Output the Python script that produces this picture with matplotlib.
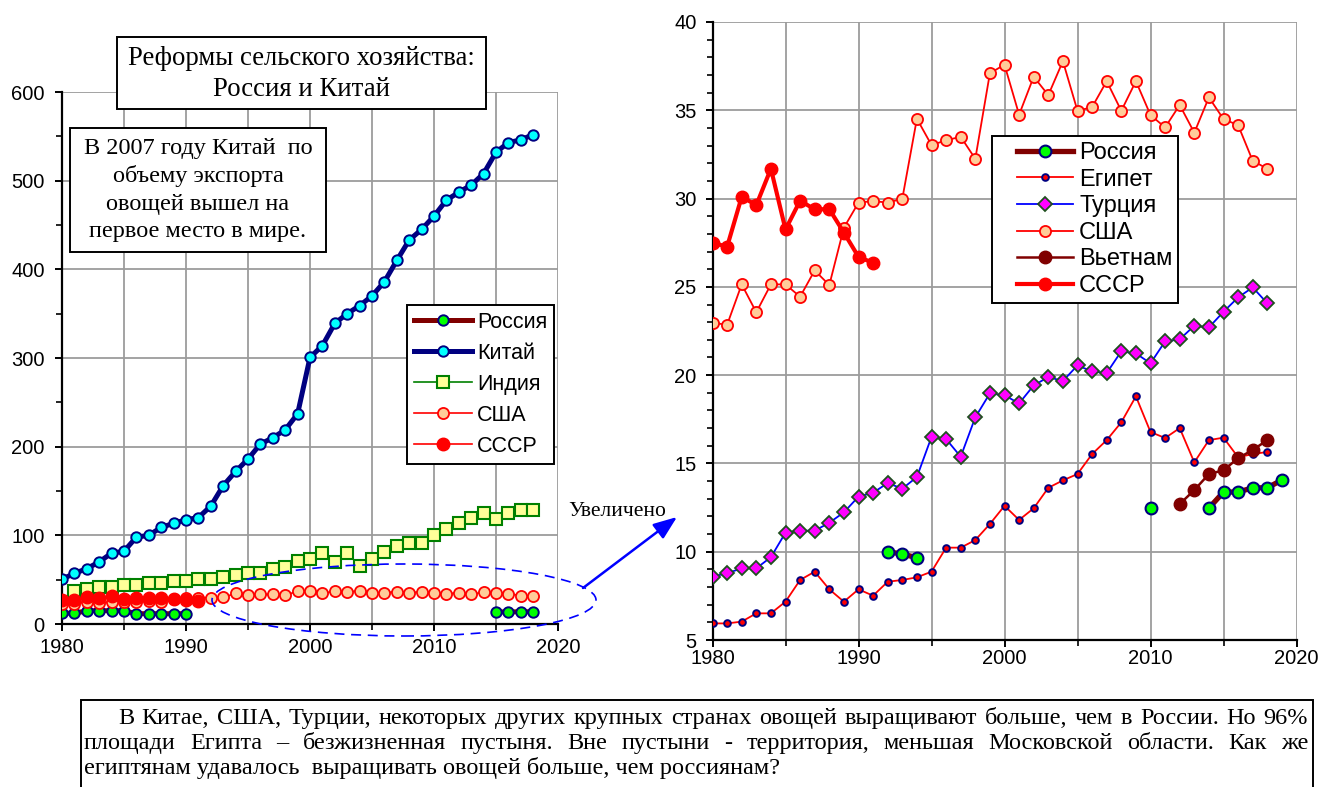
import numpy as np
import matplotlib
matplotlib.use('Agg')
import matplotlib.pyplot as plt
from matplotlib import patches
from matplotlib.ticker import MultipleLocator
from matplotlib.lines import Line2D
from matplotlib.legend_handler import HandlerLine2D

nan = np.nan

# ---------------- data (left chart) ----------------
years_all = list(range(1980, 2019))
china = [50.6, 57, 62.5, 70, 80, 82, 98, 100, 109, 113.5, 117.6, 120, 133, 156, 172, 186, 203,
         210, 219, 237, 300.6, 314, 339, 350, 359, 370, 386, 410, 433, 445, 460, 478, 487, 495,
         508, 532, 543, 546, 552]
years_india = list(range(1981, 2019))
india = [37.5, 40, 42, 42, 44.5, 44.5, 46, 46, 48.7, 48.7, 50.5, 50.5, 53, 55.4, 57.7, 57.7, 62,
         64, 71, 73, 80, 70, 80, 65.4, 73, 81.5, 88, 91, 91, 100, 107, 113.5, 120, 125, 118, 125,
         129, 129]
years_russia_l = [1980, 1981, 1982, 1983, 1984, 1985, 1986, 1987, 1988, 1989, 1990, 2000,
                  2015, 2016, 2017, 2018]
russia_l = [12.4, 12, 15, 15, 15, 15, 11.6, 11.6, 11.6, 11.6, 11.6, nan, 13.6, 13.6, 13.8, 13.8]

# ---------------- data (shared / right chart) ----------------
usa = [22.97, 22.85, 25.14, 23.56, 25.14, 25.14, 24.44, 25.93, 25.1, 28.35,
       29.77, 29.86, 29.77, 29.99, 34.52, 33.03, 33.3, 33.5, 32.25, 37.1,
       37.58, 34.75, 36.9, 35.86, 37.78, 34.97, 35.18, 36.65, 34.97, 36.65,
       34.73, 34.03, 35.3, 33.73, 35.73, 34.5, 34.16, 32.14, 31.69]
years_ussr = list(range(1980, 1992))
ussr = [27.5, 27.27, 30.1, 29.63, 31.69, 28.25, 29.88, 29.39, 29.4, 28.07, 26.7, 26.36]
egypt = [5.94, 5.94, 6.04, 6.51, 6.51, 7.17, 8.4, 8.87, 7.87, 7.17,
         7.87, 7.51, 8.3, 8.4, 8.55, 8.87, 10.23, 10.23, 10.66, 11.57,
         12.6, 11.8, 12.46, 13.62, 14.04, 14.4, 15.53, 16.32, 17.33, 18.8,
         16.78, 16.44, 17.0, 15.06, 16.32, 16.46, 15.35, 15.53, 15.65]
turkey = [8.59, 8.78, 9.06, 9.06, 9.69, 11.08, 11.19, 11.19, 11.64, 12.23,
          13.12, 13.34, 13.89, 13.57, 14.23, 16.5, 16.38, 15.38, 17.61, 18.97,
          18.86, 18.4, 19.42, 19.89, 19.67, 20.55, 20.21, 20.12, 21.35, 21.23,
          20.67, 21.91, 22.03, 22.8, 22.7, 23.59, 24.4, 24.97, 24.07]
years_vietnam = list(range(2012, 2019))
vietnam = [12.7, 13.49, 14.4, 14.61, 15.3, 15.76, 16.32]
years_russia_r = [1992, 1993, 1994, 2000, 2010, 2012, 2014, 2015, 2016, 2017, 2018, 2019]
russia_r = [10.0, 9.87, 9.66, nan, 12.47, nan, 12.47, 13.38, 13.38, 13.62, 13.62, 14.06]

labels_left = ['Россия', 'Китай', 'Индия', 'США', 'СССР']
labels_right = ['Россия', 'Египет', 'Турция', 'США', 'Вьетнам', 'СССР']

title_lines = ['Реформы сельского хозяйства:', 'Россия и Китай']
note_lines = ['В 2007 году Китай  по', 'объему экспорта', 'овощей вышел на', 'первое место в мире.']
zoom_label = 'Увеличено'
bottom_lines = [
    'В Китае, США, Турции, некоторых других крупных странах овощей выращивают больше, чем в России. Но 96%',
    'площади Египта – безжизненная пустыня. Вне пустыни  - территория, меньшая Московской области. Как же',
    'египтянам удавалось  выращивать овощей больше, чем россиянам?',
]

# ---------------- figure ----------------
W, H = 1320, 787
fig = plt.figure(figsize=(W / 100, H / 100), dpi=100)
renderer = fig.canvas.get_renderer()
SANS = 'Liberation Sans'
SERIF = 'Liberation Serif'


def fxy(x, y):
    return (x / W, 1 - y / H)


def frect(x0, y0, x1, y1):
    return [x0 / W, 1 - y1 / H, (x1 - x0) / W, (y1 - y0) / H]


def twidth(s, size, family):
    t = fig.text(0, 0, s, fontsize=size, family=family)
    w = t.get_window_extent(renderer).width
    t.remove()
    return w


def fit(s, family, target):
    return 20 * target / twidth(s, 20, family)


axL = fig.add_axes(frect(62, 92, 558, 624))
axR = fig.add_axes(frect(712.5, 22, 1296.5, 640))

GRID = '#9c9c9c'


def style(ax, ymaj, ymin, xpad, ypad):
    ax.set_axisbelow(True)
    ax.xaxis.set_major_locator(MultipleLocator(10))
    ax.xaxis.set_minor_locator(MultipleLocator(5))
    ax.yaxis.set_major_locator(MultipleLocator(ymaj))
    ax.yaxis.set_minor_locator(MultipleLocator(ymin))
    ax.grid(True, which='major', color=GRID, lw=1.3)
    ax.grid(True, which='minor', axis='x', color=GRID, lw=1.3)
    for s in ('top', 'right'):
        ax.spines[s].set_visible(False)
    for s in ('left', 'bottom'):
        ax.spines[s].set_linewidth(1.6)
        ax.spines[s].set_color('black')
    ax.tick_params(which='major', direction='out', length=5, width=1.4, labelsize=14.5)
    ax.tick_params(which='minor', direction='out', length=4, width=1.2)
    ax.tick_params(axis='x', which='major', pad=xpad)
    ax.tick_params(axis='y', which='major', pad=ypad)
    for lab in ax.get_xticklabels() + ax.get_yticklabels():
        lab.set_family(SANS)


# ---------------- left chart ----------------
lr, = axL.plot(years_russia_l, russia_l, color='#800000', lw=3.6, marker='o', ms=7.5,
               mfc='#00ff00', mec='#000080', mew=1.4, zorder=3)
lc, = axL.plot(years_all, china, color='#000080', lw=3.6, marker='o', ms=7.5,
               mfc='#00ffff', mec='#000080', mew=1.4, zorder=4)
li, = axL.plot(years_india, india, color='#008000', lw=1.2, marker='s', ms=8,
               mfc='#ffff99', mec='#008000', mew=1.5, zorder=3)
lu, = axL.plot(years_all, usa, color='red', lw=1.2, marker='o', ms=8,
               mfc='#ffcc99', mec='red', mew=1.3, zorder=3)
ls_, = axL.plot(years_ussr, ussr, color='red', lw=1.2, marker='o', ms=9,
                mfc='red', mec='red', mew=1.0, zorder=3.5)
axL.set_xlim(1980, 2020)
axL.set_ylim(0, 600)
style(axL, 100, 50, 5, 7.5)

# ---------------- right chart ----------------
rr, = axR.plot(years_russia_r, russia_r, color='#800000', lw=3.8, marker='o', ms=8.5,
               mfc='#00ff00', mec='#000080', mew=1.5, zorder=6)
re, = axR.plot(years_all, egypt, color='red', lw=1.3, marker='o', ms=4.8,
               mfc='red', mec='#000080', mew=1.4, zorder=3)
rt, = axR.plot(years_all, turkey, color='blue', lw=1.3, marker='D', ms=7,
               mfc='#ff00ff', mec='#1f4f1f', mew=1.3, zorder=3)
ru, = axR.plot(years_all, usa, color='red', lw=1.3, marker='o', ms=8,
               mfc='#ffcc99', mec='red', mew=1.3, zorder=3)
rv, = axR.plot(years_vietnam, vietnam, color='#800000', lw=1.8, marker='o', ms=9,
               mfc='#800000', mec='#800000', mew=1.0, zorder=4)
rs, = axR.plot(years_ussr, ussr, color='red', lw=3.0, marker='o', ms=9,
               mfc='red', mec='red', mew=1.0, zorder=5)
axR.set_xlim(1980, 2020)
axR.set_ylim(5, 40)
style(axR, 5, 1, 1.5, 6.5)


# ---------------- legends ----------------
def build_legend(ax, handles, labels, fs, anchor, target_h, hl, htp, bp, xpad):
    ls = 0.3
    fs_px = fs * 100 / 72
    leg = None
    for _ in range(3):
        if leg is not None:
            leg.remove()
        leg = ax.legend(handles, labels, loc='upper left', bbox_to_anchor=fxy(*anchor),
                        bbox_transform=fig.transFigure, borderaxespad=0, fancybox=False,
                        framealpha=1, edgecolor='black', prop={'family': SANS, 'size': fs},
                        handlelength=hl, handletextpad=htp, borderpad=bp, labelspacing=ls,
                        numpoints=1, handler_map={Line2D: HandlerLine2D(xpad=xpad)})
        leg.get_frame().set_linewidth(1.4)
        leg.set_zorder(20)
        fig.canvas.draw()
        h = leg.get_window_extent(renderer).height
        ls = max(0.0, ls + (target_h - h) / (fs_px * (len(labels) - 1)))
    return leg


fsL = 15.5
pxL = fsL * 100 / 72
build_legend(axL, [lr, lc, li, lu, ls_], labels_left, fsL, (407, 305), 159,
             58 / pxL, 5 / pxL, 7 / pxL, 0.0)
fsR = 17
pxR = fsR * 100 / 72
build_legend(axR, [rr, re, rt, ru, rv, rs], labels_right, fsR, (992, 136), 167,
             75 / pxR, 6 / pxR, 6 / pxR, 19 / pxR)

# ---------------- annotations ----------------
fig.add_artist(patches.Rectangle(fxy(117, 109), 369 / W, 72 / H, transform=fig.transFigure,
                                 facecolor='white', edgecolor='black', lw=1.4, zorder=5))
ts = fit(title_lines[0], SERIF, 347)
for line, yb in zip(title_lines, [65, 96]):
    fig.text(*fxy(301.5, yb), line, family=SERIF, fontsize=ts, ha='center', va='baseline', zorder=6)

fig.add_artist(patches.Rectangle(fxy(70, 252), 256 / W, 124 / H, transform=fig.transFigure,
                                 facecolor='white', edgecolor='black', lw=1.4, zorder=5))
ns = fit(note_lines[0], SERIF, 230)
for line, yb in zip(note_lines, [154, 182, 210, 237]):
    fig.text(*fxy(198, yb), line, family=SERIF, fontsize=ns, ha='center', va='baseline', zorder=6)

fig.add_artist(patches.Ellipse(fxy(404, 600), 384 / W, 72 / H, transform=fig.transFigure,
                               fill=False, edgecolor='blue', lw=1.2, ls=(0, (6, 4)), zorder=7))
fig.add_artist(patches.FancyArrowPatch(fxy(583, 588), fxy(677, 517), transform=fig.transFigure,
                                       arrowstyle='-|>,head_length=1.3,head_width=0.5',
                                       mutation_scale=11, color='blue', lw=1.8,
                                       shrinkA=0, shrinkB=0, zorder=7))
zs = fit(zoom_label, SERIF, 98)
fig.text(*fxy(568, 516), zoom_label, family=SERIF, fontsize=zs, ha='left', va='baseline', zorder=6)

# ---------------- bottom text box ----------------
fig.add_artist(patches.Rectangle(fxy(81, 820), (1313 - 81) / W, 120 / H, transform=fig.transFigure,
                                 facecolor='white', edgecolor='black', lw=1.4, zorder=5,
                                 clip_on=False))
bs = fit(bottom_lines[2], SERIF, 744)
bs = min(bs, 20 * (1190 - 15 * 1.2) / twidth(bottom_lines[0], 20, SERIF))
starts = [118, 84, 84]
baselines = [724, 749, 774]
for i, line in enumerate(bottom_lines):
    x0 = starts[i]
    yb = baselines[i]
    if i < 2:
        words = line.split()
        ws = [twidth(w, bs, SERIF) for w in words]
        gap = (1308 - x0 - sum(ws)) / (len(words) - 1)
        x = x0
        for w, wd in zip(words, ws):
            fig.text(*fxy(x, yb), w, family=SERIF, fontsize=bs, ha='left', va='baseline', zorder=6)
            x += wd + gap
    else:
        fig.text(*fxy(x0, yb), line, family=SERIF, fontsize=bs, ha='left', va='baseline', zorder=6)

fig.savefig('out.png', dpi=100)
